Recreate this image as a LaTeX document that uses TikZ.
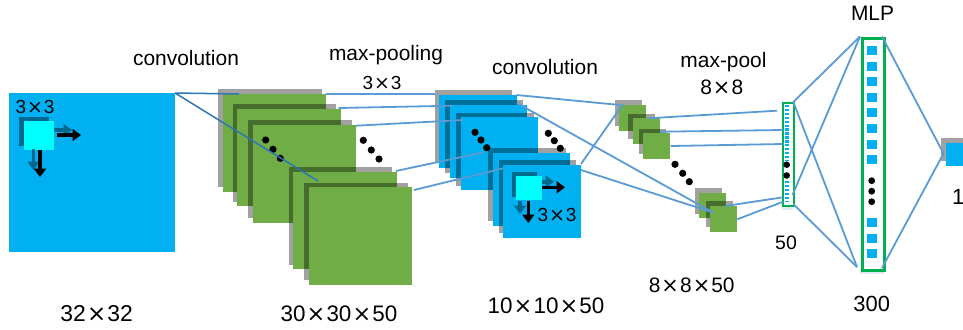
\documentclass[tikz,border=0pt]{standalone}
\usepackage{fontspec}
\setmainfont{Liberation Sans}
\newfontfamily\djfont{DejaVu Sans}
\usetikzlibrary{arrows.meta,shadows}
\definecolor{cblue}{HTML}{00B0F0}
\definecolor{cgreen}{HTML}{70AD47}
\definecolor{cline}{HTML}{5B9BD5}
\definecolor{cline2}{HTML}{2E75B6}
\definecolor{vgreen}{HTML}{00B050}
\definecolor{ccyan}{HTML}{00FFFF}
\definecolor{cdark}{HTML}{00698F}
\definecolor{pale}{HTML}{DDEBF7}
\newcommand\X{\hspace{0.05em}{\djfont ×}\hspace{0.05em}}
\begin{document}
\begin{tikzpicture}[x=1bp,y=-1bp,
  lay/.style={anchor=north west,inner sep=0,outer sep=0,draw=none,
    drop shadow={shadow xshift=-4.4bp,shadow yshift=4.6bp,opacity=0.37,fill=black}},
  convl/.style={lay,fill=cgreen,minimum width=103.5bp,minimum height=97.5bp},
  pooll/.style={lay,fill=cblue,minimum width=77.5bp,minimum height=73bp},
  smalll/.style={lay,fill=cgreen,minimum width=27bp,minimum height=25.5bp},
  conn/.style={cline,line width=1.8bp},
  conn2/.style={cline2,line width=1.5bp},
  lbl/.style={inner sep=0,font=\fontsize{21}{24}\selectfont},
  dim/.style={inner sep=0,font=\fontsize{22.5}{26}\selectfont},
  dot/.style={black},
  karrow/.style={black,line width=3.6bp,-{Triangle[length=8.5bp,width=12bp]}},
  sarrow/.style={cdark,line width=3.6bp,-{Triangle[length=8.5bp,width=12bp]}},
]
\useasboundingbox (0,0) rectangle (963,329);
\fill[white] (0,0) rectangle (963,329);

% input
\node[anchor=north west,inner sep=0,fill=cblue,minimum width=166bp,minimum height=159bp] (in) at (9,93) {};
\fill[cdark] (19,116.5) rectangle (49,146);
\node[anchor=north west,inner sep=0,fill=ccyan,minimum width=30bp,minimum height=29bp] (k1) at (24,121) {};
\node[inner sep=0,font=\fontsize{19}{22}\selectfont] (k1l) at (35,106.5) {3\X3};
\coordinate (a1s) at (54,130); \coordinate (a1e) at (72,130);
\coordinate (a2s) at (57,135); \coordinate (a2e) at (81,135);
\coordinate (a3s) at (33.5,149); \coordinate (a3e) at (33.5,170);
\coordinate (a4s) at (40,150); \coordinate (a4e) at (40,177);
\draw[sarrow] (a1s) -- (a1e);
\draw[sarrow] (a3s) -- (a3e);
\draw[karrow] (a2s) -- (a2e);
\draw[karrow] (a4s) -- (a4e);

% conv1 stack
\node[convl] (c1) at (222.7,94) {};
\node[convl] (c2) at (237.3,108.7) {};
\node[convl] (c3) at (252.7,125) {};
\node[convl] (c4) at (293.3,171.7) {};
\node[convl] (c5) at (308.7,187.3) {};
\foreach \p in {(265.7,140),(273,149.3),(280.3,158.3),(363.3,140.3),(371.3,150),(379,159)}
  \fill[dot] \p circle (3.6);

% pool1 stack
\node[pooll] (p1) at (439.3,95) {};
\node[pooll] (p2) at (449.5,105) {};
\node[pooll] (p3) at (460.7,117.3) {};
\node[pooll] (p4) at (492.7,152.7) {};
\node[pooll] (p5) at (503.3,165) {};
\foreach \p in {(475,132.3),(481,140),(486.7,147.7),(548.3,133.3),(554.3,140.7),(560.3,148.3)}
  \fill[dot] \p circle (3.6);
\fill[cdark] (511.7,171.7) rectangle (536.7,196.7);
\node[anchor=north west,inner sep=0,fill=ccyan,minimum width=25.7bp,minimum height=24bp] (k2) at (516,176) {};
\coordinate (b1s) at (541.7,181.7); \coordinate (b1e) at (554,181.7);
\coordinate (b2s) at (541.7,187.3); \coordinate (b2e) at (565,187.3);
\coordinate (b3s) at (520,200.5); \coordinate (b3e) at (520,214);
\coordinate (b4s) at (528.3,200.5); \coordinate (b4e) at (528.3,223);
\draw[sarrow] (b1s) -- (b1e);
\draw[sarrow] (b3s) -- (b3e);
\draw[karrow] (b2s) -- (b2e);
\draw[karrow] (b4s) -- (b4e);
\node[inner sep=0,font=\fontsize{19}{22}\selectfont] (k2l) at (557,214.5) {3\X3};

% pool2 stack
\node[smalll] (q1) at (619.3,105) {};
\node[smalll] (q2) at (632.7,118.3) {};
\node[smalll] (q3) at (643.3,133.3) {};
\node[smalll] (q4) at (699,192.7) {};
\node[smalll] (q5) at (710,206) {};
\foreach \p in {(675,164.3),(682.7,173.3),(689.3,181.7)}
  \fill[dot] \p circle (3.6);

% vector 50
\fill[pale] (781.5,204) rectangle (792.5,209.5);
\node[anchor=north west,inner sep=0,draw=vgreen,line width=2.2bp,fill=white,minimum width=11bp,minimum height=102.5bp] (v50) at (781.5,102) {};
\draw[cblue,line width=4.5bp,dash pattern=on 2.4bp off 1.5bp] (787,105) -- (787,160);
\draw[cblue,line width=4.5bp,dash pattern=on 2.4bp off 1.5bp] (787,181) -- (787,201.5);
\fill[dot] (786.7,164.7) circle (3.3);
\fill[dot] (786.7,175.5) circle (3.3);

% MLP vector
\fill[pale] (860,269) rectangle (884,274);
\node[anchor=north west,inner sep=0,draw=vgreen,line width=3bp,fill=white,minimum width=22.5bp,minimum height=232.5bp] (mlp) at (860.5,36.5) {};
\foreach \t in {46,61.6,77.2,92.8,108.4,124,139.6,155.2,218.3,233.5,249}
  \fill[cblue] (867.3,\t) rectangle (876.7,\t+9);
\foreach \t in {180.7,191.2,201.7}
  \fill[dot] (871.7,\t) circle (3.4);

% output
\node[anchor=north west,inner sep=0,outer sep=0,fill=cblue,minimum width=23bp,minimum height=23bp,
  drop shadow={shadow xshift=-4.4bp,shadow yshift=4.4bp,opacity=0.37,fill=black}] (out) at (945.5,142.7) {};

% connector end points
\coordinate (i1) at (175,93);
\coordinate (ce1) at (239,94);
\coordinate (ce2) at (318,181);
\coordinate (cr1) at (326,94);      \coordinate (pl1) at (435,94);
\coordinate (cr2) at (338.5,108);   \coordinate (pl2) at (453.3,105.7);
\coordinate (cr3) at (356,125.7);   \coordinate (pl3) at (463.3,120);
\coordinate (cr4) at (396,171);     \coordinate (pl4) at (483.3,152.3);
\coordinate (cr5) at (414,190);     \coordinate (pl5) at (503.3,168.3);
\coordinate (pr1) at (516.7,95);    \coordinate (ql1) at (620,105);
\coordinate (pr2) at (516.7,103);   \coordinate (ql5) at (713,212.5);
\coordinate (pr5) at (581,164);     \coordinate (ql1b) at (623,104);
\coordinate (pr5b) at (581,170);
\coordinate (qr1) at (648.3,118.3); \coordinate (vl1) at (777,110.7);
\coordinate (qr2) at (660,131.7);   \coordinate (vl2) at (783,130);
\coordinate (qr3) at (670.7,146);   \coordinate (vl3) at (783,144);
\coordinate (qr4) at (725,206);     \coordinate (vl4) at (783,197.3);
\coordinate (qr5) at (737.3,219.3); \coordinate (vl5) at (783,201.7);
\coordinate (vt) at (793.3,102);    \coordinate (vb) at (793.3,204);
\coordinate (vb2) at (792.5,195);
\coordinate (mt) at (860,36.5);     \coordinate (mb) at (857,267);
\coordinate (mtr) at (882,36.5);    \coordinate (mbr) at (882,268);
\coordinate (oin) at (943.5,153.5);

\draw[conn2] (i1) -- (ce1);
\draw[conn2] (i1) -- (ce2);
\draw[conn] (cr1) -- (pl1);
\draw[conn] (cr2) -- (pl2);
\draw[conn] (cr3) -- (pl3);
\draw[conn] (cr4) -- (pl4);
\draw[conn] (cr5) -- (pl5);
\draw[conn] (pr1) -- (ql1);
\draw[conn] (pr2) -- (ql5);
\draw[conn] (pr5) -- (ql1b);
\draw[conn] (pr5b) -- (ql5);
\draw[conn] (qr1) -- (vl1);
\draw[conn] (qr2) -- (vl2);
\draw[conn] (qr3) -- (vl3);
\draw[conn] (qr4) -- (vl4);
\draw[conn] (qr5) -- (vl5);
\draw[conn] (vt) -- (mt);
\draw[conn] (vt) -- (mb);
\draw[conn] (vb2) -- (mt);
\draw[conn] (vb) -- (mb);
\draw[conn] (mtr) -- (oin);
\draw[conn] (mbr) -- (oin);

% labels
\node[lbl] (t1) at (186,58) {convolution};
\node[lbl] (t2) at (386,55) {max-pooling};
\node[lbl,font=\fontsize{19}{22}\selectfont] (t3) at (382,82.5) {3\X3};
\node[lbl] (t4) at (545,67) {convolution};
\node[lbl] (t5) at (723.5,62) {max-pool};
\node[lbl] (t6) at (721.7,87.5) {8\X8};
\node[lbl] (t7) at (872.5,13.5) {MLP};
\node[dim,font=\fontsize{23}{26}\selectfont] (d1) at (96.7,314) {32\X32};
\node[dim] (d2) at (339,314) {30\X30\X50};
\node[dim] (d3) at (546,306) {10\X10\X50};
\node[dim,font=\fontsize{21}{24}\selectfont] (d4) at (691.7,285) {8\X8\X50};
\node[lbl,font=\fontsize{19.5}{22}\selectfont] (d5) at (786,242.5) {50};
\node[lbl,font=\fontsize{22}{24}\selectfont] (d6) at (871.7,303.5) {300};
\node[lbl,font=\fontsize{22}{24}\selectfont,anchor=west] (d7) at (952,196.5) {1};
\end{tikzpicture}
\end{document}
